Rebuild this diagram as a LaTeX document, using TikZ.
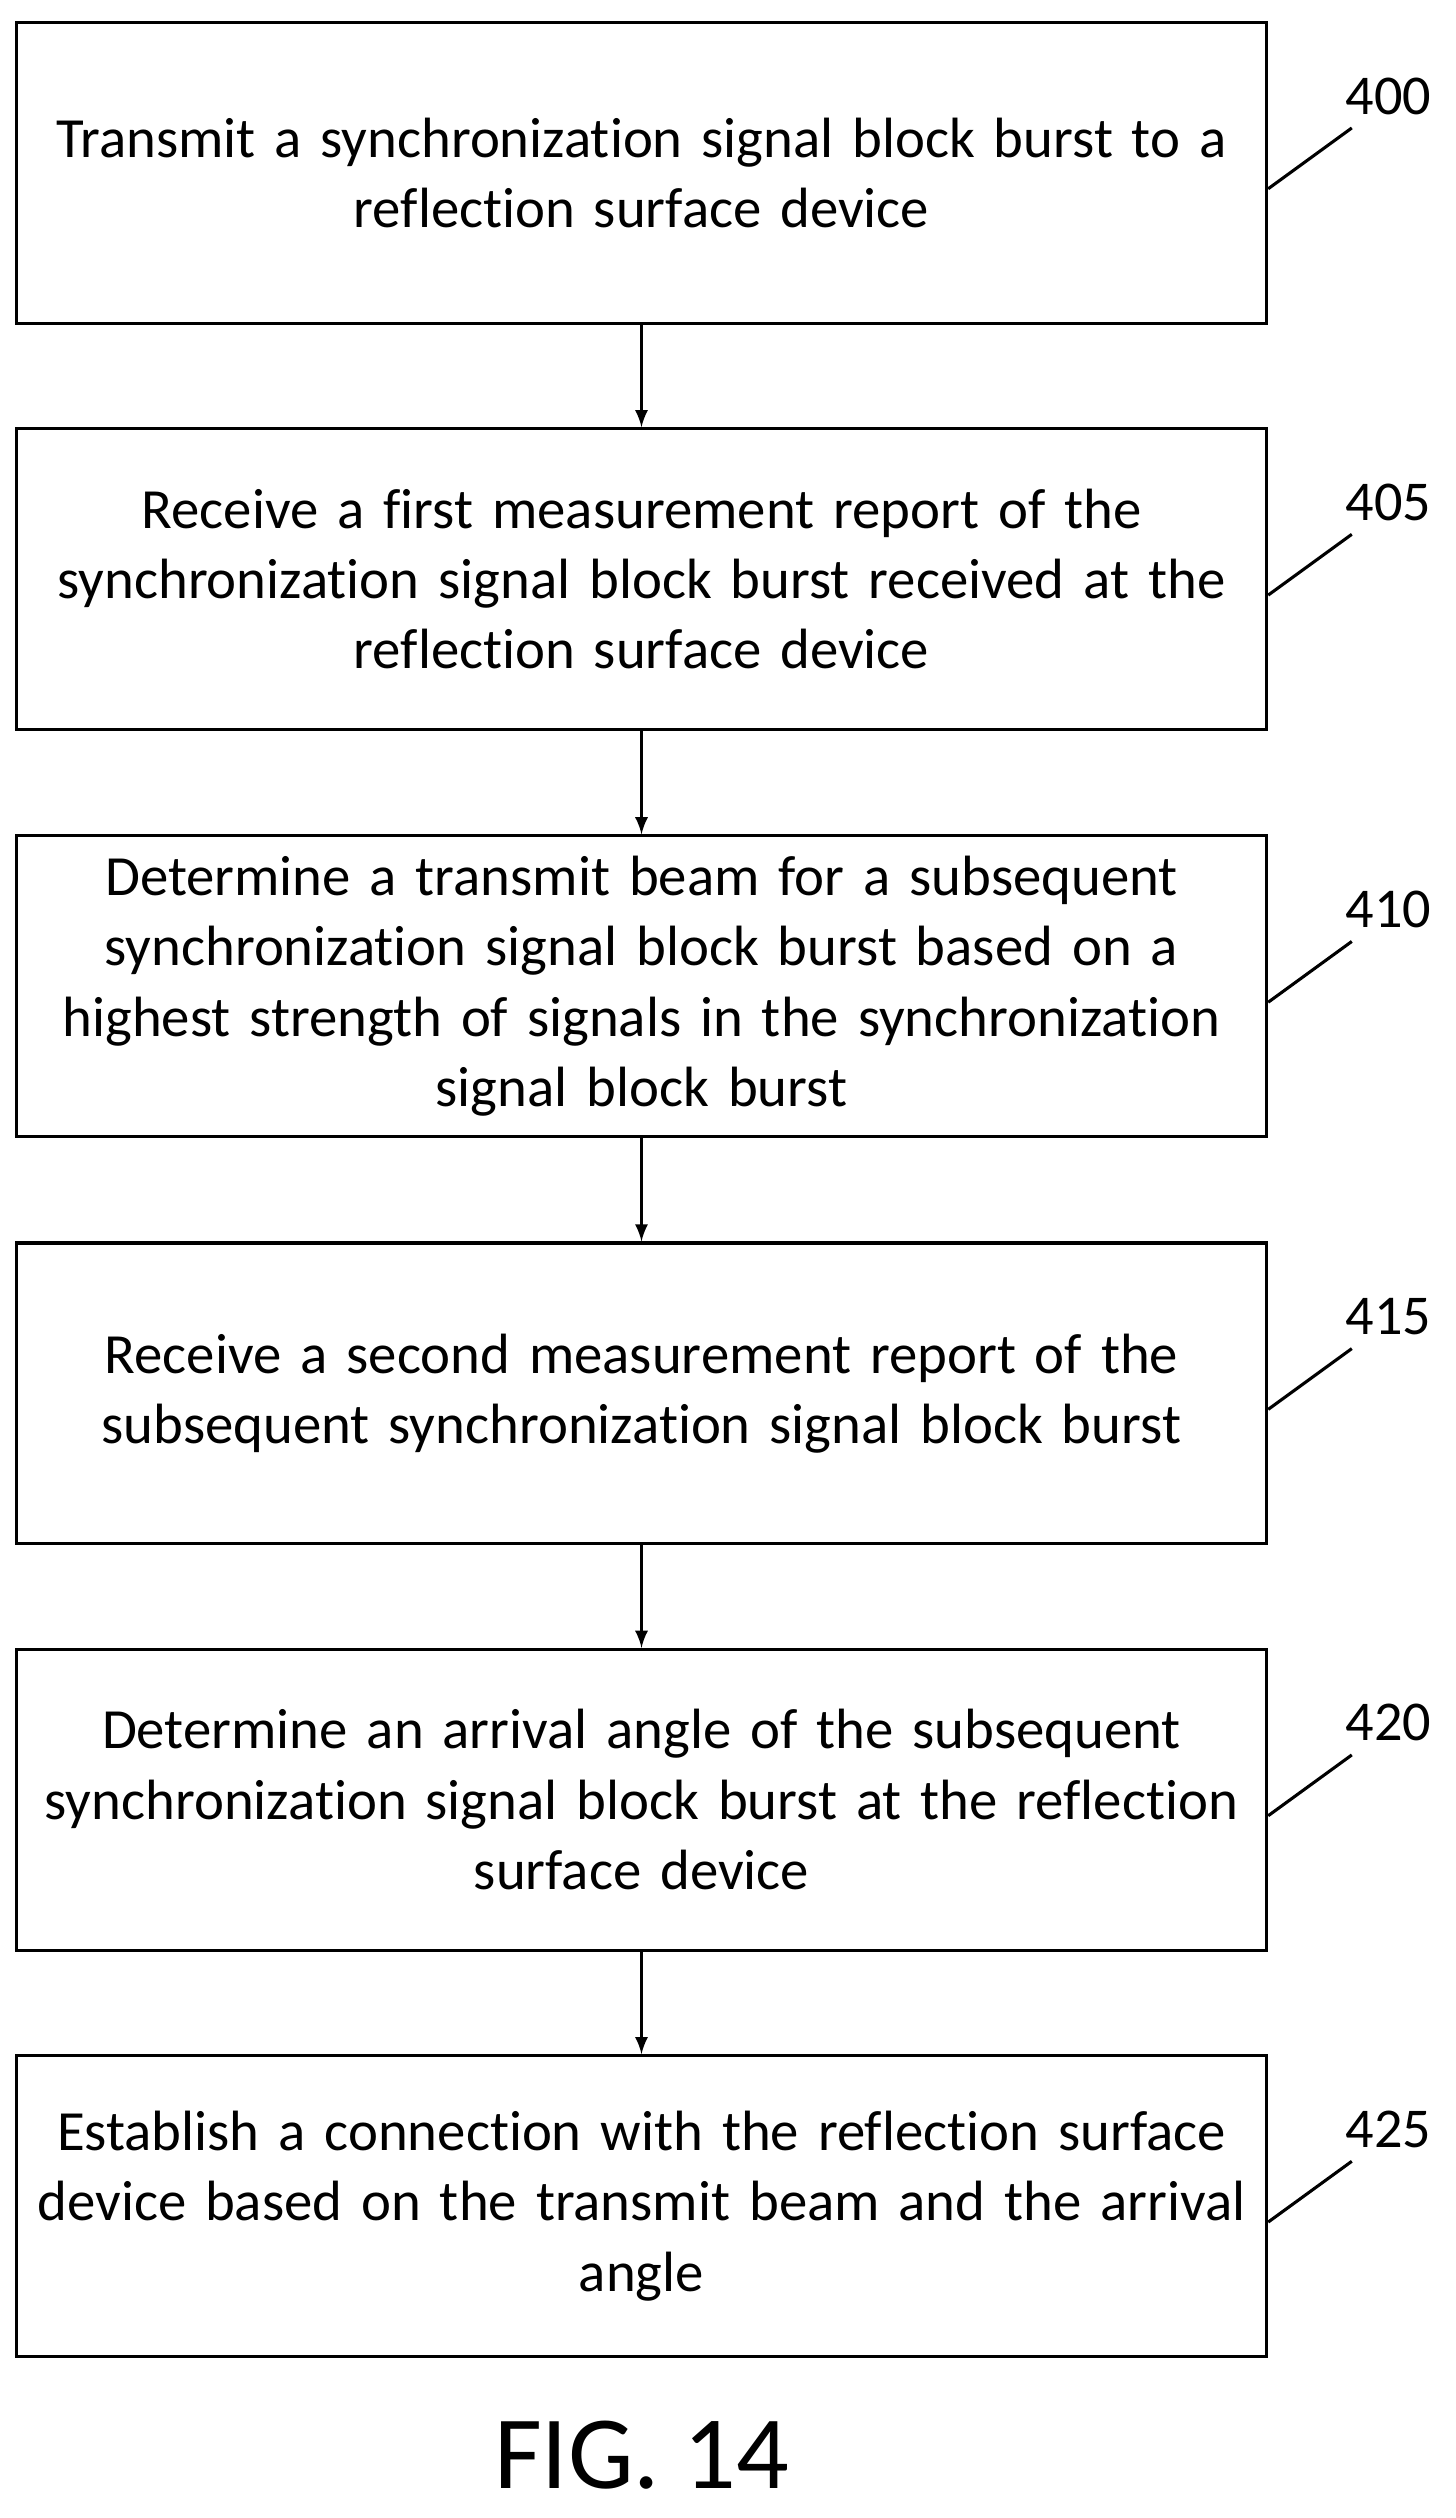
\documentclass[tikz,border=0pt]{standalone}
\usepackage{fontspec}
\setmainfont[RawFeature=-liga]{Carlito}
\usetikzlibrary{positioning}
\begin{document}
\begin{tikzpicture}[x=0.02cm,y=-0.02cm,
    stepbox/.style={draw, line width=1.1pt, minimum width=15.48cm, minimum height=3.76cm, align=center, text width=15.4cm, font=\fontsize{20.2}{25}\selectfont},
    lbl/.style={font=\fontsize{20}{22}\selectfont},
    arr/.style={-latex, line width=1.1pt}]
    \useasboundingbox (0,0) rectangle (910,1574);

    % steps
    \node[stepbox] (S0) at (401,108) {Transmit a synchronization signal block burst to a\\reflection surface device};
    \node[stepbox] (S1) at (401,362) {Receive a first measurement report of the\\synchronization signal block burst received at the\\reflection surface device};
    \node[stepbox] (S2) at (401,616.5) {Determine a transmit beam for a subsequent\\synchronization signal block burst based on a\\highest strength of signals in the synchronization\\signal block burst};
    \node[stepbox] (S3) at (401,871) {Receive a second measurement report of the\\subsequent synchronization signal block burst};
    \node[stepbox] (S4) at (401,1125) {Determine an arrival angle of the subsequent\\synchronization signal block burst at the reflection\\surface device};
    \node[stepbox] (S5) at (401,1379) {Establish a connection with the reflection surface\\device based on the transmit beam and the arrival\\angle};

    % labels
    \foreach \n/\y/\t in {0/108/400, 1/362/405, 2/616.5/410, 3/871/415, 4/1125/420, 5/1379/425} {
        \coordinate (L\n) at (845,\y-28);
        \draw[line width=1.1pt] (S\n.east |- 0,\y+10) -- (L\n);
        \node[lbl] (N\n) at (868,\y-48) {\t};
    }

    % arrows
    \draw[arr] (S0) -- (S1);
    \draw[arr] (S1) -- (S2);
    \draw[arr] (S2) -- (S3);
    \draw[arr] (S3) -- (S4);
    \draw[arr] (S4) -- (S5);

    \node[font=\fontsize{37}{40}\selectfont] (fig) at (401,1535) {FIG. 14};
\end{tikzpicture}
\end{document}
